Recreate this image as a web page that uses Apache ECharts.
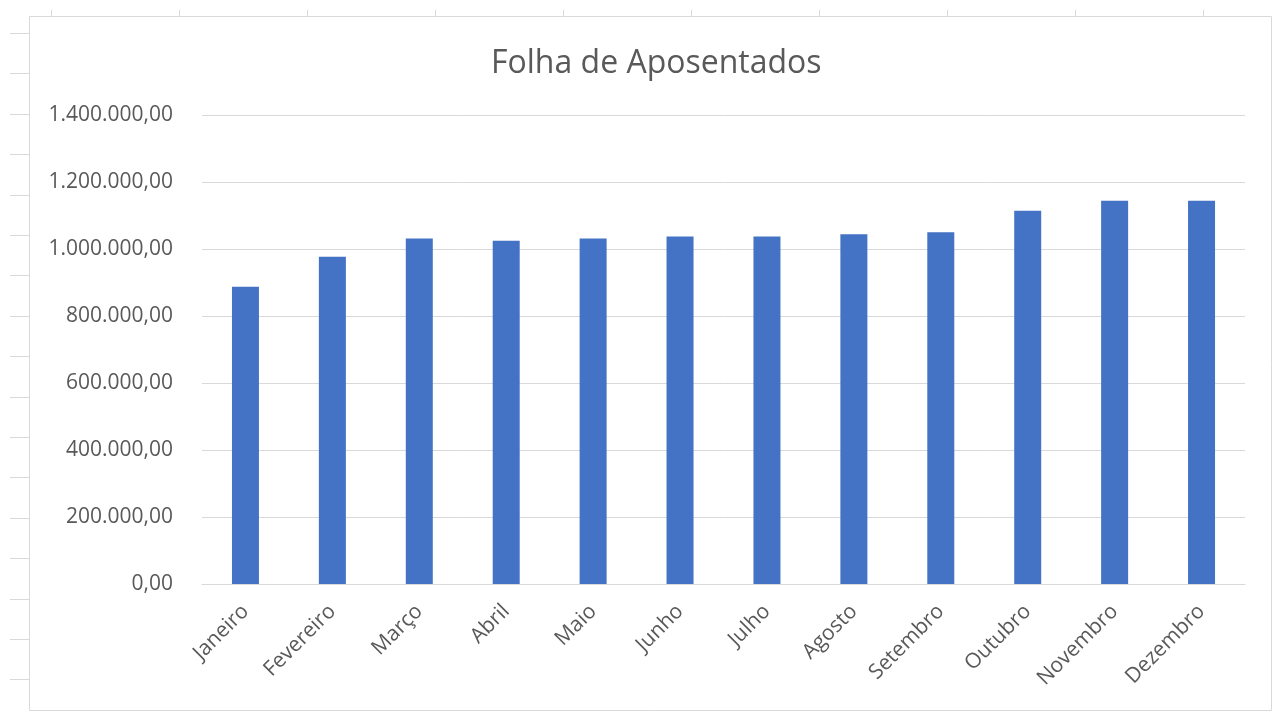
<!DOCTYPE html>
<html>
<head>
<meta charset="utf-8">
<script src="https://cdn.jsdelivr.net/npm/echarts@6/dist/echarts.min.js"></script>
<style>
html,body{margin:0;padding:0;background:#fff;}
#chart{width:1276px;height:713px;}
</style>
</head>
<body>
<div id="chart"></div>
<script>
const categories = ['Janeiro','Fevereiro','Março','Abril','Maio','Junho','Julho','Agosto','Setembro','Outubro','Novembro','Dezembro'];
const values = [887000, 977000, 1031000, 1025000, 1031000, 1037000, 1037000, 1044000, 1050000, 1114000, 1144000, 1144000];
const chartTitle = 'Folha de Aposentados';
const yMin = 0, yMax = 1400000, yStep = 200000;

function fmt(v){
  const s = Math.round(v).toString().replace(/\B(?=(\d{3})+(?!\d))/g,'.');
  return s + ',00';
}

// decorative spreadsheet frame
const deco = [];
deco.push({type:'rect', shape:{x:29.5,y:16.5,width:1242,height:694}, style:{fill:'none', stroke:'#d9d9d9', lineWidth:1}, silent:true});
for (let y=33; y<=680; y+=40.4){
  deco.push({type:'line', shape:{x1:10,y1:Math.round(y)+0.5,x2:29,y2:Math.round(y)+0.5}, style:{stroke:'#d9d9d9',lineWidth:1}, silent:true});
}
for (let x=51; x<1270; x+=128){
  deco.push({type:'line', shape:{x1:x+0.5,y1:10,x2:x+0.5,y2:16}, style:{stroke:'#d9d9d9',lineWidth:1}, silent:true});
}

const chart = echarts.init(document.getElementById('chart'), null, {renderer:'canvas'});
chart.setOption({
  animation:false,
  backgroundColor:'#ffffff',
  textStyle:{fontFamily:'Open Sans'},
  title:{
    text: chartTitle, left:486, top:43,
    textStyle:{fontFamily:'Open Sans', fontSize:32, fontWeight:'normal', color:'#595959'}
  },
  graphic: deco,
  grid:{left:202, right:31, top:115, bottom:129, containLabel:false},
  xAxis:{
    type:'category', data:categories,
    axisLine:{lineStyle:{color:'#d9d9d9', width:1}},
    axisTick:{show:false},
    axisLabel:{rotate:45, color:'#595959', fontSize:21, fontFamily:'Open Sans', margin:24, interval:0}
  },
  yAxis:{
    type:'value', min:yMin, max:yMax, interval:yStep,
    axisLine:{show:false}, axisTick:{show:false},
    splitLine:{lineStyle:{color:'#d9d9d9', width:1}},
    axisLabel:{color:'#595959', fontSize:21, fontFamily:'Open Sans', margin:29, formatter:fmt}
  },
  series:[{
    type:'bar', data:values, barWidth:27,
    itemStyle:{color:'#4472C4'}
  }]
});
</script>
</body>
</html>
